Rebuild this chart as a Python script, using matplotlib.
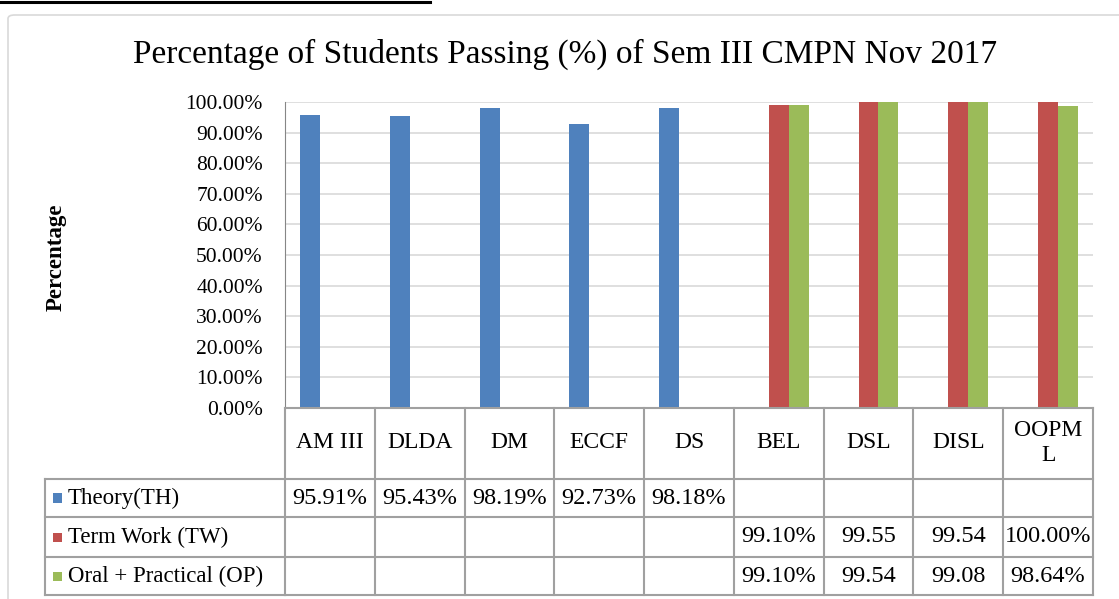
import numpy as np
import matplotlib
matplotlib.use("Agg")
import matplotlib.pyplot as plt
from matplotlib.transforms import blended_transform_factory
from matplotlib.lines import Line2D
from matplotlib.patches import FancyBboxPatch, Rectangle

plt.rcParams['font.family'] = ['Liberation Serif', 'DejaVu Serif']

# data (values > 1 were typed without the % in the source sheet)
subjects = ["AM III", "DLDA", "DM", "ECCF", "DS", "BEL", "DSL", "DISL", "OOPM\nL"]
series_names = ["Theory(TH)", "Term Work (TW)", "Oral + Practical (OP)"]
theory = [0.9591, 0.9543, 0.9819, 0.9273, 0.9818, np.nan, np.nan, np.nan, np.nan]
term_work = [np.nan, np.nan, np.nan, np.nan, np.nan, 0.9910, 99.55, 99.54, 1.0000]
oral_practical = [np.nan, np.nan, np.nan, np.nan, np.nan, 0.9910, 99.54, 99.08, 0.9864]
colors = ["#4F81BD", "#C0504D", "#9BBB59"]

W, H = 1119, 599
def fx(x): return x / W
def fy(y): return 1 - y / H

fig = plt.figure(figsize=(W / 100, H / 100), dpi=100)

# chart frame and the bit of page above it
frame = FancyBboxPatch((fx(8), fy(640)), fx(1130), fy(15) - fy(640),
                       boxstyle="round,pad=0,rounding_size=0.006",
                       transform=fig.transFigure, fc="none", ec="#d9d9d9", lw=1.2, zorder=-1)
fig.add_artist(frame)
fig.add_artist(Line2D([0, fx(430)], [fy(2), fy(2)], transform=fig.transFigure, color="black", lw=2.2))

ax = fig.add_axes([fx(285), fy(408), fx(1093) - fx(285), fy(102) - fy(408)])
ax.patch.set_alpha(0)
series = [theory, term_work, oral_practical]
x = np.arange(len(subjects))
bw = 20 / 90.5
for k, (vals, c) in enumerate(zip(series, colors)):
    ax.bar(x + (k - 1) * bw, vals, width=bw, color=c, zorder=3)

ax.set_xlim(-0.5, len(subjects) - 0.5)
ax.set_ylim(0, 1)
yt = np.arange(0, 1.01, 0.1)
ax.set_yticks(yt)
ax.set_yticklabels([f"{v * 100:.2f}%" for v in yt], fontsize=15.5)
ax.tick_params(axis="y", length=0, pad=16)
ax.set_xticks([])
ax.grid(axis="y", color="#d9d9d9", lw=1.2, zorder=0)
for s in ["top", "right", "bottom"]:
    ax.spines[s].set_visible(False)
ax.spines["left"].set_color("#868686")

fig.text(fx(565), fy(54), "Percentage of Students Passing (%) of Sem III CMPN Nov 2017",
         ha="center", va="center", fontsize=24)
fig.text(fx(56), fy(257), "Percentage", rotation=90, ha="center", va="center",
         fontsize=16.5, fontweight="bold")

# data table below the plot
tr = blended_transform_factory(ax.transData, fig.transFigure)
lc = "#a0a0a0"
rows_y = [408, 479, 517, 557, 595]
left = -0.5
right = len(subjects) - 0.5
for b in np.arange(len(subjects) + 1) - 0.5:
    fig.add_artist(Line2D([b, b], [fy(408), fy(595)], transform=tr, color=lc, lw=1.5))
fig.add_artist(Line2D([left, right], [fy(408), fy(408)], transform=tr, color=lc, lw=1.5))
for yy in rows_y[1:]:
    fig.add_artist(Line2D([fx(45), fx(285)], [fy(yy), fy(yy)], transform=fig.transFigure, color=lc, lw=1.5))
    fig.add_artist(Line2D([left, right], [fy(yy), fy(yy)], transform=tr, color=lc, lw=1.5))
fig.add_artist(Line2D([fx(45), fx(45)], [fy(479), fy(595)], transform=fig.transFigure, color=lc, lw=1.5))

for i, name in enumerate(subjects):
    fig.text(i, fy(443), name, transform=tr, ha="center", va="center", fontsize=17, linespacing=1.3)

for r, (name, vals, c) in enumerate(zip(series_names, series, colors)):
    yc = (rows_y[r + 1] + rows_y[r + 2]) / 2
    fig.add_artist(Rectangle((fx(53), fy(yc + 4.5)), fx(9), fy(0) - fy(9), transform=fig.transFigure,
                             fc=c, ec="none"))
    fig.text(fx(68), fy(yc), name, ha="left", va="center", fontsize=16.5)
    for i, v in enumerate(vals):
        if np.isnan(v):
            continue
        label = f"{v:.2f}" if v > 1 else f"{v * 100:.2f}%"
        fig.text(i, fy(yc), label, transform=tr, ha="center", va="center", fontsize=17.5)

fig.savefig("out.png", dpi=100)
